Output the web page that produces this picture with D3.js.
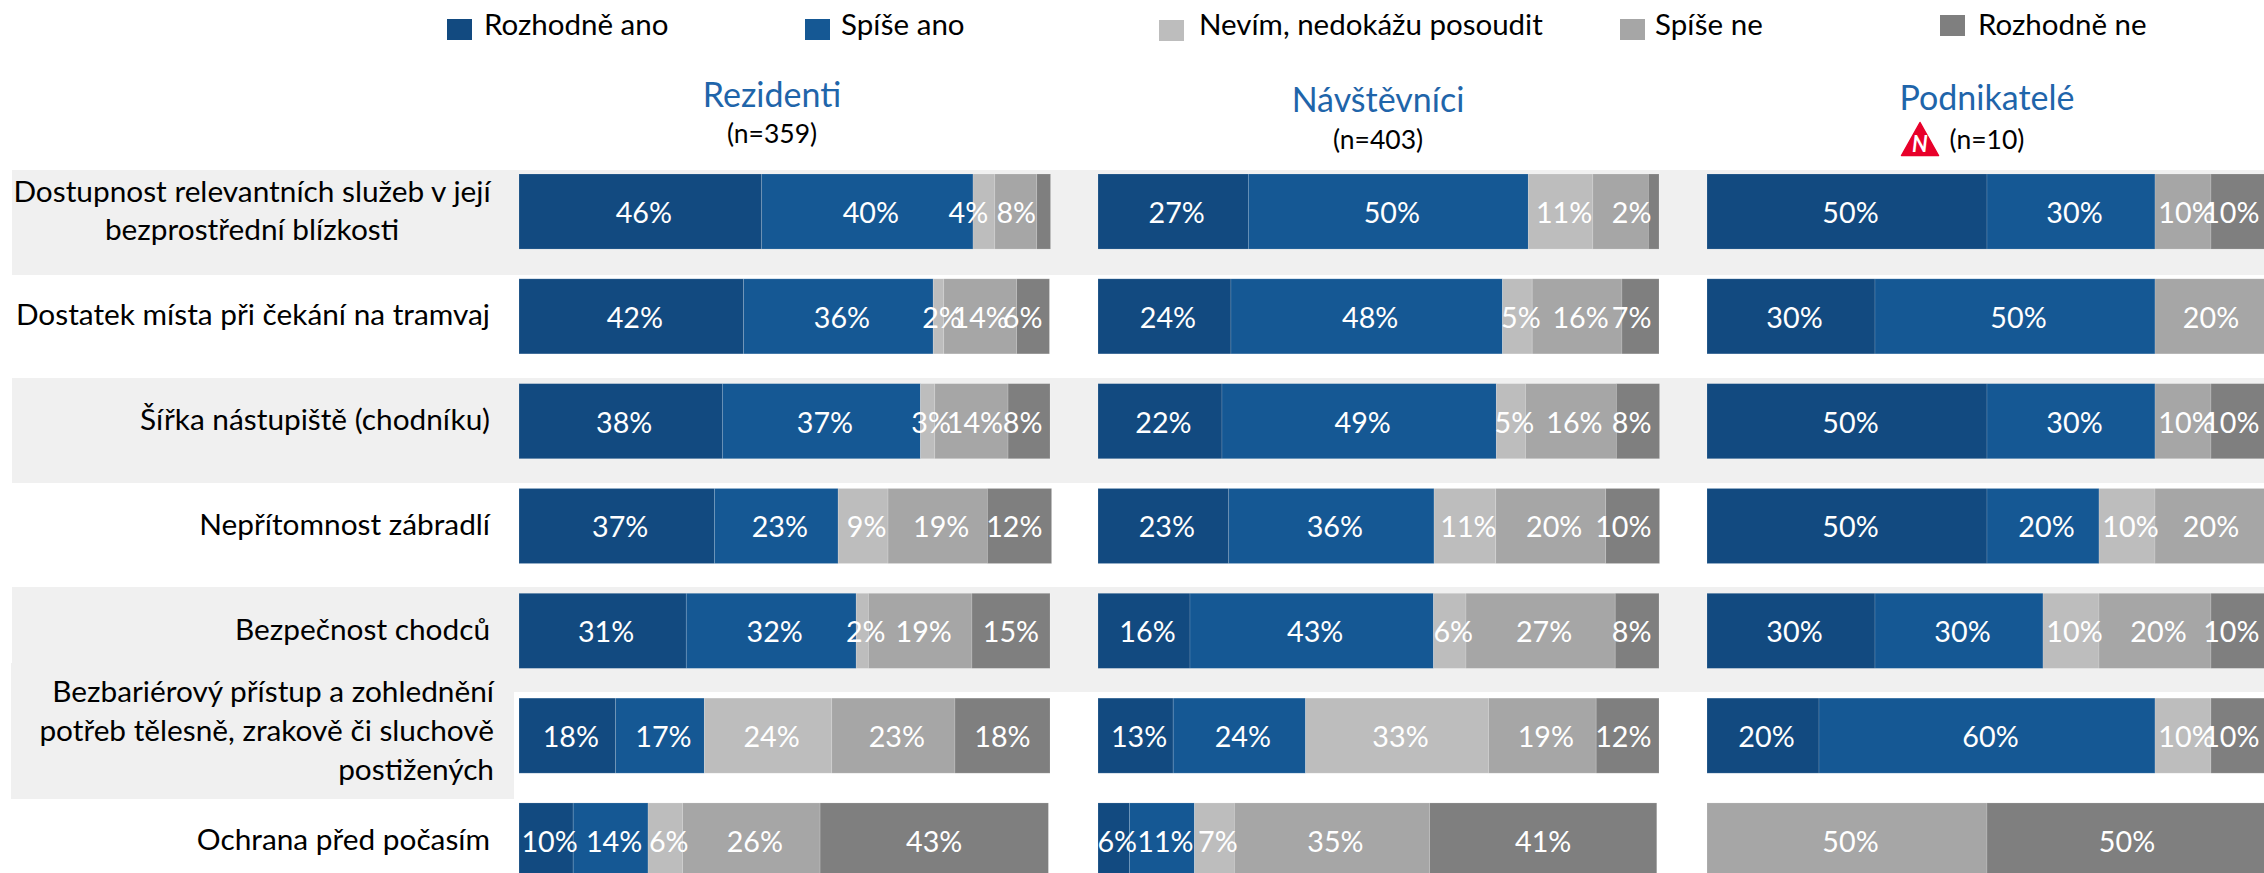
<!DOCTYPE html>
<html>
<head>
<meta charset="utf-8">
<script src="https://cdn.jsdelivr.net/npm/d3@7"></script>
<style>
  html, body { margin: 0; padding: 0; background: #fff; overflow: hidden; }
  svg { display: block; font-family: Lato, "Open Sans", sans-serif; }
</style>
</head>
<body>
<svg id="chart" width="2264" height="873"></svg>
<script>
// answer scale, same order in every bar
var answers = ["Rozhodně ano", "Spíše ano", "Nevím, nedokážu posoudit", "Spíše ne", "Rozhodně ne"];
var answerColors = ["#124a80", "#155894", "#bdbdbd", "#a6a6a6", "#7f7f7f"];

var categories = [
    "Dostupnost relevantních služeb v její bezprostřední blízkosti",
    "Dostatek místa při čekání na tramvaj",
    "Šířka nástupiště (chodníku)",
    "Nepřítomnost zábradlí",
    "Bezpečnost chodců",
    "Bezbariérový přístup a zohlednění potřeb tělesně, zrakově či sluchově postižených",
    "Ochrana před počasím"
];

// segment sizes, in %
var rezidentiValues = [
    [45.7, 39.8, 4.1, 7.9, 2.6],
    [42.3, 35.7, 2.0, 13.7, 6.2],
    [38.3, 37.3, 2.7, 13.8, 7.9],
    [36.8, 23.3, 9.4, 18.7, 12.1],
    [31.5, 32.0, 2.3, 19.5, 14.7],
    [18.2, 16.7, 24.0, 23.2, 17.9],
    [10.2, 14.1, 6.5, 25.9, 43.0]
];
var navstevniciValues = [
    [26.8, 49.9, 11.5, 9.9, 1.9],
    [23.7, 48.4, 5.3, 16.0, 6.6],
    [22.1, 48.9, 5.2, 16.2, 7.7],
    [23.3, 36.6, 11.0, 19.6, 9.6],
    [16.4, 43.4, 5.8, 26.6, 7.8],
    [13.4, 23.6, 32.6, 19.2, 11.2],
    [5.6, 11.6, 7.1, 34.8, 40.5]
];
var podnikateleValues = [
    [50, 30, 0, 10, 10],
    [30, 50, 0, 20, 0],
    [50, 30, 0, 10, 10],
    [50, 20, 10, 20, 0],
    [30, 30, 10, 20, 10],
    [20, 60, 10, 0, 10],
    [0, 0, 0, 50, 50]
];

// printed labels, null = the segment has no label
var rezidentiLabels = [
    [46, 40, 4, 8, null],
    [42, 36, 2, 14, 6],
    [38, 37, 3, 14, 8],
    [37, 23, 9, 19, 12],
    [31, 32, 2, 19, 15],
    [18, 17, 24, 23, 18],
    [10, 14, 6, 26, 43]
];
var navstevniciLabels = [
    [27, 50, 11, null, 2],
    [24, 48, 5, 16, 7],
    [22, 49, 5, 16, 8],
    [23, 36, 11, 20, 10],
    [16, 43, 6, 27, 8],
    [13, 24, 33, 19, 12],
    [6, 11, 7, 35, 41]
];
var podnikateleLabels = [
    [50, 30, null, 10, 10],
    [30, 50, null, 20, null],
    [50, 30, null, 10, 10],
    [50, 20, 10, 20, null],
    [30, 30, 10, 20, 10],
    [20, 60, 10, null, 10],
    [null, null, null, 50, 50]
];

var dimensions = {
    width: 2264,
    height: 873,
    barTop: 174,
    barBottom: 878
}

var panels = [
    { name: "Rezidenti", n: "(n=359)", values: rezidentiValues, labels: rezidentiLabels,
      left: 519, right: 1050, titleX: 772, titleY: 107, nX: 772, nY: 143 },
    { name: "Návštěvníci", n: "(n=403)", values: navstevniciValues, labels: navstevniciLabels,
      left: 1098, right: 1659, titleX: 1378, titleY: 112, nX: 1378, nY: 149 },
    { name: "Podnikatelé", n: "(n=10)", values: podnikateleValues, labels: podnikateleLabels,
      left: 1707, right: 2267, titleX: 1987, titleY: 110, nX: 1987, nY: 149 }
];

var svg = d3.select("#chart");

var yScale = d3.scaleBand()
               .domain(d3.range(categories.length))
               .range([dimensions.barTop, dimensions.barBottom])
               .paddingInner(0.284)
               .paddingOuter(0);

// grey stripes behind every other row
svg.append("g")
   .selectAll("rect")
   .data([[170, 275], [378, 483], [587, 692]])
   .enter()
   .append("rect")
   .attr("x", 12)
   .attr("y", d => d[0])
   .attr("width", dimensions.width - 12)
   .attr("height", d => d[1] - d[0])
   .attr("fill", "#f0f0f0");

svg.append("rect")
   .attr("x", 11)
   .attr("y", 663)
   .attr("width", 503)
   .attr("height", 136)
   .attr("fill", "#f0f0f0");

// legend
var legendPos = [
    { box: 447, y: 19, text: 484 },
    { box: 805, y: 19, text: 841 },
    { box: 1159, y: 20, text: 1199 },
    { box: 1620, y: 19, text: 1655 },
    { box: 1940, y: 15, text: 1978 }
];
var legend = svg.append("g")
                .selectAll("g")
                .data(answers)
                .enter()
                .append("g");
legend.append("rect")
      .attr("x", (_, i) => legendPos[i].box)
      .attr("y", (_, i) => legendPos[i].y)
      .attr("width", 25)
      .attr("height", 21)
      .attr("fill", (_, i) => answerColors[i]);
legend.append("text")
      .attr("x", (_, i) => legendPos[i].text)
      .attr("y", 35)
      .attr("font-size", 29.5)
      .attr("fill", "#000")
      .text(d => d);

// category labels, split the way the source wraps them
var categoryLines = [
    { lines: ["Dostupnost relevantních služeb v její", "bezprostřední blízkosti"], x: 252, anchor: "middle", y: [202, 240] },
    { lines: ["Dostatek místa při čekání na tramvaj"], x: 490, anchor: "end", y: [325] },
    { lines: ["Šířka nástupiště (chodníku)"], x: 490, anchor: "end", y: [430] },
    { lines: ["Nepřítomnost zábradlí"], x: 490, anchor: "end", y: [535] },
    { lines: ["Bezpečnost chodců"], x: 490, anchor: "end", y: [640] },
    { lines: ["Bezbariérový přístup a zohlednění", "potřeb tělesně, zrakově či sluchově", "postižených"], x: 494, anchor: "end", y: [702, 741, 780] },
    { lines: ["Ochrana před počasím"], x: 490, anchor: "end", y: [850] }
];
categoryLines.forEach(c => {
    c.lines.forEach((line, i) => {
        svg.append("text")
           .attr("x", c.x)
           .attr("y", c.y[i])
           .attr("text-anchor", c.anchor)
           .attr("font-size", 29.8)
           .attr("fill", "#000")
           .text(line);
    });
});

// labels that were dragged by hand in the source: panel-row-segment -> px
var labelNudges = { "0-0-2": -19, "0-0-3": -3, "0-1-3": -3 };

panels.forEach((panel, p) => {
    var xScale = d3.scaleLinear()
                   .domain([0, 100])
                   .range([panel.left, panel.right]);

    svg.append("text")
       .attr("x", panel.titleX)
       .attr("y", panel.titleY)
       .attr("text-anchor", "middle")
       .attr("font-size", 34)
       .attr("fill", "#1f65aa")
       .text(panel.name);

    svg.append("text")
       .attr("x", panel.nX)
       .attr("y", panel.nY)
       .attr("text-anchor", "middle")
       .attr("font-size", 26.5)
       .attr("fill", "#000")
       .text(panel.n);

    panel.values.forEach((row, r) => {
        var segments = [];
        var sum = 0;
        row.forEach((v, s) => {
            segments.push({ start: sum, value: v, series: s, label: panel.labels[r][s] });
            sum += v;
        });
        var lastSeries = d3.max(segments.filter(d => d.value > 0), d => d.series);

        var g = svg.append("g");

        g.selectAll("rect")
         .data(segments.filter(d => d.value > 0))
         .enter()
         .append("rect")
         .attr("x", d => xScale(d.start))
         .attr("y", yScale(r))
         .attr("width", d => xScale(d.start + d.value) - xScale(d.start))
         .attr("height", yScale.bandwidth())
         .attr("fill", d => answerColors[d.series])
         .attr("stroke", "#fff")
         .attr("stroke-opacity", 0.2)
         .attr("stroke-width", 0.75);

        g.selectAll("text")
         .data(segments.filter(d => d.label !== null))
         .enter()
         .append("text")
         .attr("y", yScale(r) + 49)
         .attr("text-anchor", "middle")
         .attr("font-size", 28.7)
         .attr("fill", "#fff")
         .text(d => d.label + "%")
         .attr("x", function(d) {
             var cx = xScale(d.start + d.value / 2);
             // the last segment stays centred, the others sit a little to the right
             if (d.series !== lastSeries) cx += 3.5;
             cx += labelNudges[p + "-" + r + "-" + d.series] || 0;
             var half = this.getComputedTextLength() / 2;
             // keep the label inside the bar end
             return Math.min(cx, Math.min(panel.right, xScale(100)) - 7.5 - half);
         });
    });
});

// small-sample warning triangle next to (n=10)
var warn = svg.append("g").attr("transform", "translate(1920,139)");
warn.append("path")
    .attr("d", d3.line()([[0, -16.5], [18.5, 16.5], [-18.5, 16.5]]) + "Z")
    .attr("fill", "#e8002a")
    .attr("stroke", "#e8002a")
    .attr("stroke-width", 1.5)
    .attr("stroke-linejoin", "round");
warn.append("text")
    .attr("x", 0)
    .attr("y", 13)
    .attr("text-anchor", "middle")
    .attr("font-size", 22)
    .attr("font-weight", 700)
    .attr("font-style", "italic")
    .attr("fill", "#fff")
    .text("N");
</script>
</body>
</html>
